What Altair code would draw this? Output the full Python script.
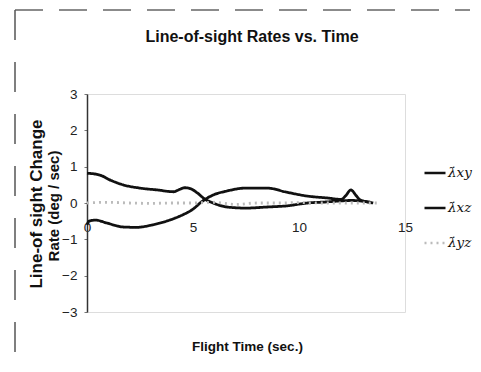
import altair as alt
import pandas as pd

LAM_XY = "\u03bb\u0307xy"
LAM_XZ = "\u03bb\u0307xz"
LAM_YZ = "\u03bb\u0307yz"

t_xy = [0, 0.6, 1.1, 1.7, 2.5, 3.3, 4.1, 4.35, 4.6, 4.9, 5.2, 5.55, 5.95, 6.6, 7.5, 8.5, 9.4, 10.4, 11.3, 12.0, 12.5, 13.0, 13.5]
v_xy = [0.82, 0.77, 0.63, 0.5, 0.41, 0.36, 0.31, 0.37, 0.42, 0.39, 0.28, 0.11, 0.0, -0.11, -0.14, -0.11, -0.08, 0.0, 0.03, 0.06, 0.07, 0.05, 0.0]

t_xz = [0, 0.1, 0.4, 0.93, 1.7, 2.35, 3.1, 3.9, 4.5, 5.0, 5.4, 5.95, 6.6, 7.5, 8.5, 9.4, 10.4, 11.3, 12.0, 12.2, 12.45, 12.7, 12.9, 13.4]
v_xz = [-0.6, -0.5, -0.47, -0.55, -0.66, -0.67, -0.6, -0.47, -0.33, -0.17, 0.03, 0.22, 0.33, 0.41, 0.41, 0.3, 0.19, 0.14, 0.1, 0.2, 0.36, 0.2, 0.08, 0.02]

t_yz = [0, 1, 2, 3, 4, 5, 6, 7, 8, 9, 10, 11, 12, 13, 13.8]
v_yz = [0.0, 0.02, 0.0, -0.01, 0.0, 0.0, 0.02, -0.04, 0.0, 0.0, 0.01, 0.0, 0.0, 0.0, 0.0]

TITLE = "Line-of-sight Rates vs. Time"
Y_TITLE_1 = "Line-of sight Change"
Y_TITLE_2 = "Rate (deg / sec)"
X_TITLE = "Flight Time (sec.)"

rows = []
for name, ts, vs in [(LAM_XY, t_xy, v_xy), (LAM_XZ, t_xz, v_xz), (LAM_YZ, t_yz, v_yz)]:
    for t, v in zip(ts, vs):
        rows.append({"series": name, "t": t, "v": v})
df = pd.DataFrame(rows)

legend_order = [LAM_XY, LAM_XZ, LAM_YZ]

lines = alt.Chart(df).mark_line(interpolate="monotone", strokeWidth=2.8).encode(
    x=alt.X("t:Q", scale=alt.Scale(domain=[0, 15], nice=False, zero=False),
            axis=alt.Axis(values=[0, 5, 10, 15], offset=-109, domain=False, ticks=False,
                          grid=False, labelPadding=17, labelFlush=False,
                          labelFont="Liberation Sans", labelFontSize=13.5, labelColor="#222",
                          title=X_TITLE, titleFont="Liberation Sans",
                          titleFontSize=13.5, titleFontWeight="bold", titleColor="#111",
                          titlePadding=106, titleX=160, titleAlign="center")),
    y=alt.Y("v:Q", scale=alt.Scale(domain=[-3, 3], nice=False),
            axis=alt.Axis(values=[-3, -2, -1, 0, 1, 2, 3], grid=False, domainColor="#333",
                          domainWidth=1.5, tickSize=3, tickColor="#777", labelPadding=7,
                          labelFont="Liberation Sans", labelFontSize=13.5, labelColor="#222",
                          title=None)),
    color=alt.Color("series:N", sort=legend_order,
                    scale=alt.Scale(domain=legend_order, range=["#111111", "#111111", "#bbbbbb"]),
                    legend=alt.Legend(title=None, orient="none", legendX=336, legendY=67,
                                      symbolType="stroke", symbolSize=441, symbolStrokeWidth=2.5,
                                      labelFont="DejaVu Serif", labelFontStyle="italic",
                                      labelFontSize=13.5, labelColor="#111", labelOffset=1,
                                      rowPadding=16)),
    strokeDash=alt.StrokeDash("series:N", sort=legend_order,
                              scale=alt.Scale(domain=legend_order, range=[[1, 0], [1, 0], [2, 4]]),
                              legend=None),
    order=alt.Order("t:Q"),
)

title = alt.Chart().mark_text(font="Liberation Sans", fontSize=16, fontWeight="bold",
                              color="#111", align="center", baseline="middle").encode(
    x=alt.value(165), y=alt.value(-57), text=alt.value(TITLE))

ytitle1 = alt.Chart().mark_text(font="Liberation Sans", fontSize=17, fontWeight="bold",
                                color="#111", align="center", baseline="middle", angle=270).encode(
    x=alt.value(-50), y=alt.value(110), text=alt.value(Y_TITLE_1))
ytitle2 = alt.Chart().mark_text(font="Liberation Sans", fontSize=15, fontWeight="bold",
                                color="#111", align="center", baseline="middle", angle=270).encode(
    x=alt.value(-33), y=alt.value(112), text=alt.value(Y_TITLE_2))

frame_top = alt.Chart().mark_rule(color="#666", strokeWidth=1.5, strokeDash=[28, 16]).encode(
    x=alt.value(-72), x2=alt.value(383), y=alt.value(-84))
frame_left = alt.Chart().mark_rule(color="#555", strokeWidth=1.5, strokeDash=[30, 22]).encode(
    x=alt.value(-72), y=alt.value(-84), y2=alt.value(258))

chart = alt.layer(frame_top, frame_left, title, ytitle1, ytitle2, lines).properties(
    width=318, height=218,
    autosize=alt.AutoSizeParams(type="none"),
    padding={"left": 79, "top": 86, "right": 68, "bottom": 48},
).configure_view(stroke="#888", strokeDash=[2, 2], strokeWidth=1).configure(background="white")

chart.save("out.html", embed_options={"renderer": "svg", "actions": False})
